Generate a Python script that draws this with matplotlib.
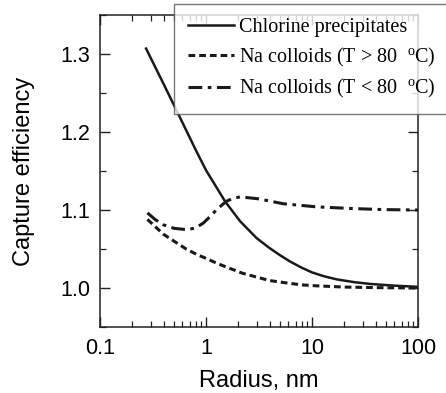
import matplotlib
matplotlib.use("Agg")
import matplotlib.pyplot as plt
from matplotlib.ticker import FixedLocator, FixedFormatter, LogLocator, MultipleLocator, NullFormatter

# Data
r_cl = [0.272, 0.4, 0.6, 0.8, 1.0, 1.25, 1.514, 2.1, 3.0, 4.0, 5.0, 6.2, 8.0, 10.0, 13.0, 17.2, 25.0, 35.5, 60.0, 100.0]
y_cl = [1.307, 1.261, 1.212, 1.177, 1.151, 1.1295, 1.111, 1.0855, 1.064, 1.051, 1.042, 1.034, 1.026, 1.020, 1.015, 1.011, 1.0075, 1.0052, 1.003, 1.0015]

r_hot = [0.28, 0.33, 0.396, 0.5, 0.65, 0.818, 1.0, 1.3, 1.69, 2.2, 3.0, 4.0, 5.4, 8.0, 11.0, 20.0, 50.0, 100.0]
y_hot = [1.088, 1.079, 1.069, 1.060, 1.050, 1.043, 1.038, 1.031, 1.025, 1.019, 1.014, 1.0095, 1.007, 1.004, 1.0028, 1.0012, 1.0003, 1.000]

r_cold = [0.28, 0.33, 0.396, 0.5, 0.658, 0.80, 0.946, 1.1, 1.26, 1.55, 1.8, 2.10, 2.61, 3.13, 5.38, 11.1, 22.9, 47.3, 100]
y_cold = [1.0963, 1.088, 1.081, 1.0765, 1.0748, 1.077, 1.0834, 1.092, 1.1005, 1.111, 1.115, 1.1168, 1.1155, 1.1143, 1.108, 1.104, 1.102, 1.1005, 1.100]

labels = ["Chlorine precipitates", "Na colloids (T > 80  $^{\\mathrm{o}}$C)", "Na colloids (T < 80  $^{\\mathrm{o}}$C)"]
xticks = [0.1, 1, 10, 100]
xticklabels = ["0.1", "1", "10", "100"]
yticks = [1.0, 1.1, 1.2, 1.3]
yticklabels = ["1.0", "1.1", "1.2", "1.3"]

plt.rcParams['font.family'] = ['Liberation Sans', 'DejaVu Sans']
plt.rcParams['mathtext.fontset'] = 'custom'
plt.rcParams['mathtext.rm'] = 'Liberation Serif'
plt.rcParams['mathtext.it'] = 'Liberation Serif:italic'

fig = plt.figure(figsize=(4.46, 3.93), dpi=100)
ax = fig.add_axes([100/446, 1-327/393, 318/446, 312/393])

c = '#1a1a1a'
l1, = ax.plot(r_cl, y_cl, '-', color=c, lw=1.8)
l2, = ax.plot(r_hot, y_hot, color=c, lw=2.2, dashes=(2.2, 1.3))
l3, = ax.plot(r_cold, y_cold, color=c, lw=2.2, dashes=(4.5, 1.8, 1.2, 1.8))

ax.set_xscale('log')
ax.set_xlim(0.1, 100)
ax.set_ylim(0.95, 1.35)
ax.xaxis.set_major_locator(FixedLocator(xticks))
ax.xaxis.set_major_formatter(FixedFormatter(xticklabels))
ax.xaxis.set_minor_locator(LogLocator(base=10, subs=range(2, 10)))
ax.xaxis.set_minor_formatter(NullFormatter())
ax.yaxis.set_major_locator(FixedLocator(yticks))
ax.yaxis.set_major_formatter(FixedFormatter(yticklabels))
ax.yaxis.set_minor_locator(MultipleLocator(0.05))

ax.tick_params(which='both', direction='in', top=True, right=True, colors='#222222', labelcolor='black')
ax.tick_params(which='major', length=7, width=1, labelsize=15.5)
ax.tick_params(which='minor', length=4, width=0.9)
ax.tick_params(axis='x', which='major', pad=8)
ax.tick_params(axis='y', which='major', pad=7)
for s in ax.spines.values():
    s.set_color('#222222')
    s.set_linewidth(1.1)

ax.set_xlabel("Radius, nm", fontsize=17, labelpad=8)
ax.set_ylabel("Capture efficiency", fontsize=17, labelpad=18)

leg = fig.legend([l1, l2, l3], labels, loc='upper left', bbox_to_anchor=(174/446, 1-4/393),
                 prop={'family': 'Liberation Serif', 'size': 14.5}, frameon=True, fancybox=False,
                 handlelength=2.3, handletextpad=0.25, labelspacing=0.42, borderpad=0.7,
                 borderaxespad=0)
leg.get_frame().set_edgecolor('#555555')
leg.get_frame().set_linewidth(1.0)

fig.savefig('out.png', dpi=100)
